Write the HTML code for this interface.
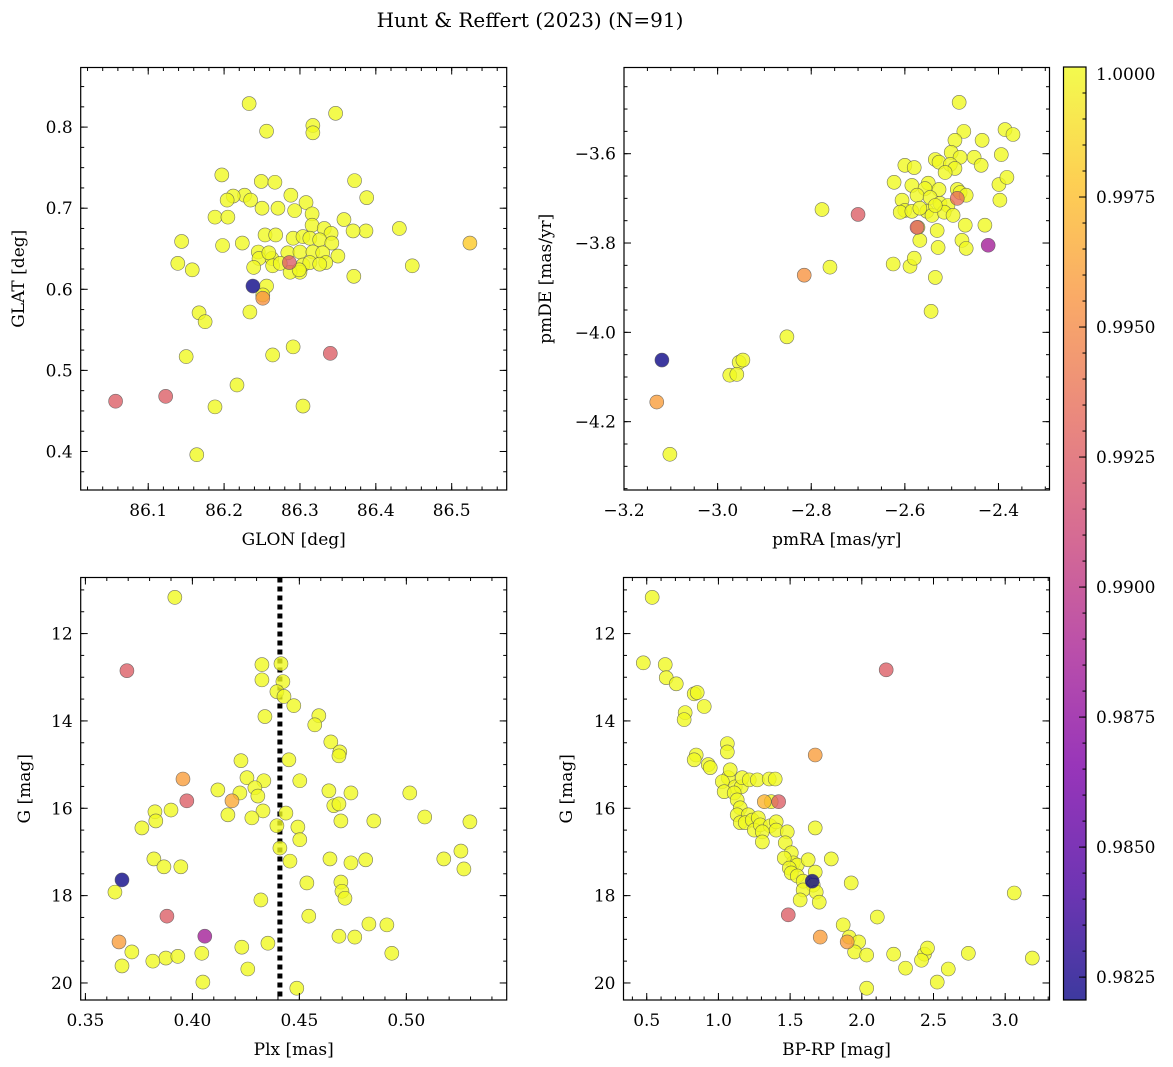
<!DOCTYPE html>
<html><head><meta charset="utf-8">
<style>
html,body{margin:0;padding:0;background:#fff;}
svg{display:block;font-family:"DejaVu Serif","Liberation Serif",serif;}
</style></head>
<body>
<svg id="fig" width="1173" height="1067" viewBox="0 0 1173 1067" xmlns="http://www.w3.org/2000/svg">
<defs>
<linearGradient id="plasma" x1="0" y1="1" x2="0" y2="0">
<stop offset="0" stop-color="#0d0887"/><stop offset="0.125" stop-color="#4c02a1"/><stop offset="0.25" stop-color="#7e03a8"/><stop offset="0.375" stop-color="#a92395"/><stop offset="0.5" stop-color="#cc4778"/><stop offset="0.625" stop-color="#e56b5d"/><stop offset="0.75" stop-color="#f89441"/><stop offset="0.875" stop-color="#fdc328"/><stop offset="1" stop-color="#f0f921"/>
</linearGradient>
</defs>
<text x="530" y="27" font-size="20" text-anchor="middle">Hunt &amp; Reffert (2023) (N=91)</text>
</svg>
<script>
// ---- data ----
const tlGlon = [86.233,86.347,86.256,86.317,86.317,86.197,86.372,86.388,86.249,86.267,86.288,86.308,86.227,86.212,86.204,86.235,86.188,86.205,86.250,86.271,86.293,86.316,86.316,86.332,86.341,86.358,86.387,86.370,86.431,86.224,86.254,86.268,86.291,86.304,86.313,86.326,86.342,86.284,86.300,86.317,86.330,86.350,86.334,86.245,86.263,86.144,86.198,86.246,86.259,86.304,86.313,86.326,86.239,86.264,86.300,86.158,86.287,86.256,86.274,86.299,86.139,86.371,86.448,86.251,86.234,86.167,86.175,86.291,86.264,86.150,86.217,86.188,86.304,86.164,86.524,86.286,86.238,86.251,86.340,86.057,86.123];
const tlGlat = [0.829,0.817,0.795,0.802,0.793,0.741,0.734,0.713,0.733,0.732,0.716,0.707,0.716,0.715,0.710,0.710,0.689,0.689,0.700,0.700,0.697,0.693,0.679,0.675,0.669,0.686,0.672,0.672,0.675,0.657,0.667,0.667,0.663,0.665,0.663,0.661,0.657,0.645,0.646,0.646,0.645,0.641,0.633,0.646,0.638,0.659,0.654,0.638,0.645,0.630,0.633,0.631,0.627,0.629,0.621,0.624,0.621,0.604,0.632,0.624,0.632,0.616,0.629,0.593,0.572,0.571,0.560,0.529,0.519,0.517,0.482,0.455,0.456,0.396,0.657,0.633,0.604,0.589,0.521,0.462,0.468];
const tlProb = [1,1,1,1,1,1,1,1,1,1,1,1,1,1,1,1,1,1,1,1,1,1,1,1,1,1,1,1,1,1,1,1,1,1,1,1,1,1,1,1,1,1,1,1,1,1,1,1,1,1,1,1,1,1,1,1,1,1,1,1,1,1,1,1,1,1,1,1,1,1,1,1,1,1,0.998,0.9925,0.982,0.9955,0.9925,0.9925,0.9925];

const trPmra = [-2.484,-2.474,-2.386,-2.369,-2.493,-2.435,-2.394,-2.501,-2.482,-2.452,-2.535,-2.600,-2.580,-2.527,-2.503,-2.493,-2.514,-2.437,-2.399,-2.382,-2.623,-2.585,-2.550,-2.527,-2.488,-2.482,-2.557,-2.574,-2.546,-2.525,-2.508,-2.606,-2.600,-2.610,-2.585,-2.553,-2.542,-2.516,-2.497,-2.535,-2.568,-2.469,-2.572,-2.531,-2.471,-2.478,-2.469,-2.429,-2.529,-2.568,-2.625,-2.589,-2.580,-2.535,-2.544,-2.760,-2.777,-2.852,-2.954,-2.946,-2.974,-2.959,-3.102,-2.397,-2.700,-2.574,-2.422,-2.815,-3.119,-3.130,-2.488];
const trPmde = [-3.485,-3.550,-3.546,-3.557,-3.570,-3.570,-3.602,-3.597,-3.608,-3.608,-3.613,-3.626,-3.631,-3.619,-3.624,-3.633,-3.642,-3.626,-3.669,-3.653,-3.664,-3.671,-3.666,-3.680,-3.680,-3.687,-3.678,-3.693,-3.698,-3.711,-3.716,-3.704,-3.727,-3.731,-3.729,-3.729,-3.738,-3.731,-3.738,-3.716,-3.722,-3.693,-3.765,-3.772,-3.760,-3.794,-3.812,-3.760,-3.810,-3.794,-3.847,-3.852,-3.834,-3.877,-3.953,-3.854,-3.725,-4.010,-4.067,-4.062,-4.096,-4.094,-4.273,-3.704,-3.736,-3.765,-3.805,-3.872,-4.062,-4.156,-3.700];
const trProb = [1,1,1,1,1,1,1,1,1,1,1,1,1,1,1,1,1,1,1,1,1,1,1,1,1,1,1,1,1,1,1,1,1,1,1,1,1,1,1,1,1,1,1,1,1,1,1,1,1,1,1,1,1,1,1,1,1,1,1,1,1,1,1,1,0.9925,0.9925,0.9885,0.9955,0.982,0.996,0.9935];

const blPlx = [0.3918,0.4325,0.4414,0.4325,0.4423,0.4395,0.4428,0.4474,0.4591,0.4572,0.4339,0.4647,0.4689,0.4685,0.4227,0.4451,0.4502,0.4255,0.4334,0.4292,0.4119,0.4306,0.5016,0.4222,0.4638,0.4741,0.4661,0.4685,0.3825,0.3900,0.4330,0.4437,0.4166,0.5086,0.4278,0.3829,0.3764,0.4694,0.4848,0.5297,0.4395,0.4493,0.5175,0.5255,0.5269,0.4810,0.4741,0.4643,0.4456,0.3820,0.3946,0.3867,0.4409,0.4502,0.4535,0.4694,0.4699,0.4713,0.4320,0.3638,0.4544,0.4825,0.4909,0.4685,0.4759,0.4231,0.4353,0.3717,0.4044,0.3876,0.3932,0.3815,0.3671,0.4259,0.4932,0.4049,0.4488,0.3694,0.3956,0.4185,0.3974,0.3671,0.3881,0.4058,0.3657];
const blG = [11.17,12.71,12.69,13.06,13.10,13.33,13.44,13.65,13.88,14.09,13.90,14.48,14.71,14.80,14.91,14.89,15.37,15.30,15.37,15.53,15.58,15.72,15.65,15.65,15.60,15.65,15.94,15.90,16.08,16.04,16.06,16.11,16.15,16.20,16.22,16.29,16.45,16.29,16.29,16.31,16.40,16.43,17.16,16.98,17.39,17.18,17.25,17.16,17.21,17.16,17.34,17.34,16.91,16.72,17.71,17.69,17.90,18.06,18.10,17.92,18.47,18.65,18.67,18.93,18.95,19.18,19.09,19.29,19.32,19.43,19.39,19.50,19.61,19.68,19.32,19.98,20.12,12.85,15.33,15.83,15.83,17.64,18.47,18.93,19.06];
const blProb = [1,1,1,1,1,1,1,1,1,1,1,1,1,1,1,1,1,1,1,1,1,1,1,1,1,1,1,1,1,1,1,1,1,1,1,1,1,1,1,1,1,1,1,1,1,1,1,1,1,1,1,1,1,1,1,1,1,1,1,1,1,1,1,1,1,1,1,1,1,1,1,1,1,1,1,1,1,0.9925,0.996,0.9965,0.9925,0.982,0.9925,0.9885,0.996];
const plxRef = [0.4409];

const brColor = [0.538,0.476,0.629,0.636,0.706,0.831,0.852,0.768,0.761,0.901,0.845,0.831,0.929,0.943,1.068,1.082,1.062,1.062,1.027,1.117,1.159,1.166,1.215,1.040,1.110,1.131,1.271,1.354,1.396,1.368,1.152,1.131,1.208,1.152,1.187,1.236,1.278,1.250,1.292,1.361,1.306,1.403,1.306,1.403,1.480,1.466,1.508,1.522,1.459,1.550,1.626,1.494,1.508,1.550,1.591,1.675,1.787,1.661,1.591,1.682,1.570,1.703,1.926,1.870,1.912,2.108,1.978,1.950,2.034,2.222,2.305,2.437,2.416,2.458,2.526,2.603,2.743,3.063,3.189,2.034,1.675,1.710,2.170,1.675,1.320,1.420,1.654,1.487,1.898];
const brG = [11.17,12.67,12.71,13.01,13.15,13.38,13.35,13.81,13.97,13.67,14.78,14.89,15.00,15.07,15.30,15.12,14.52,14.71,15.39,15.51,15.51,15.30,15.35,15.62,15.65,15.81,15.35,15.33,15.33,15.85,15.99,16.15,16.15,16.33,16.33,16.27,16.22,16.50,16.38,16.40,16.54,16.31,16.77,16.50,16.54,16.79,17.02,17.25,17.14,17.30,17.18,17.37,17.48,17.55,17.67,17.46,17.16,17.76,17.87,17.92,18.10,18.15,17.71,18.67,18.95,18.49,19.06,19.29,19.36,19.34,19.66,19.34,19.48,19.20,19.98,19.68,19.32,17.94,19.43,20.12,16.45,18.95,12.83,14.78,15.85,15.85,17.67,18.44,19.06];
const brProb = [1,1,1,1,1,1,1,1,1,1,1,1,1,1,1,1,1,1,1,1,1,1,1,1,1,1,1,1,1,1,1,1,1,1,1,1,1,1,1,1,1,1,1,1,1,1,1,1,1,1,1,1,1,1,1,1,1,1,1,1,1,1,1,1,1,1,1,1,1,1,1,1,1,1,1,1,1,1,1,1,1,0.996,0.9925,0.996,0.997,0.9925,0.982,0.9925,0.996];

const tlXTicks = [86.1,86.2,86.3,86.4,86.5];
const tlYTicks = [0.4,0.5,0.6,0.7,0.8];
const trXTicks = [-3.2,-3.0,-2.8,-2.6,-2.4];
const trYTicks = [-4.2,-4.0,-3.8,-3.6];
const blXTicks = [0.35,0.40,0.45,0.50];
const gTicks = [12,14,16,18,20];
const brXTicks = [0.5,1.0,1.5,2.0,2.5,3.0];
const cbTicks = [0.9825,0.9850,0.9875,0.9900,0.9925,0.9950,0.9975,1.0000];
const cMin = 0.98206, cMax = 1.0;

const NS = "http://www.w3.org/2000/svg";
const svg = document.getElementById('fig');
function mk(tag, attrs, parent){
  const e = document.createElementNS(NS, tag);
  for (const k in attrs) e.setAttribute(k, attrs[k]);
  (parent||svg).appendChild(e);
  return e;
}
const stops = [[13,8,135],[76,2,161],[126,3,168],[169,35,149],[204,71,120],[229,107,93],[248,148,65],[253,195,40],[240,249,33]];
function plasma(v){
  let t = (v - cMin)/(cMax - cMin); t = Math.max(0, Math.min(1, t));
  const f = t*8, i = Math.min(7, Math.floor(f)), r = f - i;
  const a = stops[i], b = stops[i+1];
  return 'rgb(' + [0,1,2].map(k => Math.round(a[k]+(b[k]-a[k])*r)).join(',') + ')';
}
function fmt(v, d){ return (v<0?'\u2212':'') + Math.abs(v).toFixed(d); }

function panel(cfg){
  const g = mk('g', {});
  
  
  const {L,T,R,B} = cfg;
  const sx = v => L + (v - cfg.x0)/(cfg.x1 - cfg.x0)*(R-L);
  const sy = cfg.invert ? (v => T + (v - cfg.y0)/(cfg.y1 - cfg.y0)*(B-T)) : (v => B - (v - cfg.y0)/(cfg.y1 - cfg.y0)*(B-T));
  // clip
  const cid = 'clip-' + cfg.name;
  const cp = mk('clipPath', {id: cid}, g);
  mk('rect', {x:L, y:T, width:R-L, height:B-T}, cp);
  const pg = mk('g', {'clip-path': 'url(#'+cid+')'}, g);
  if (cfg.vline){
    const ln = mk('line', {x1:sx(cfg.vline[0]), x2:sx(cfg.vline[0]), y1:T, y2:B, stroke:'#000', 'stroke-width':5, 'stroke-dasharray':'5,4'}, pg);
    
    
  }
  // points: draw high-prob first then colored
  const idx = cfg.xs.map((_, i) => i).sort((a,b) => cfg.c[b] - cfg.c[a]);
  idx.forEach(i => {
    const c = mk('circle', {cx:sx(cfg.xs[i]), cy:sy(cfg.ys[i]), r:7, fill:plasma(cfg.c[i]), 'fill-opacity':0.8, stroke:'#555', 'stroke-width':0.6, 'stroke-opacity':0.8}, pg);
    
    
  });
  // ticks
  const tk = mk('g', {stroke:'#000', 'stroke-width':1}, g);
  const xr = [Math.min(cfg.x0,cfg.x1), Math.max(cfg.x0,cfg.x1)];
  for (let v = Math.ceil(xr[0]/cfg.xMinor - 1e-6)*cfg.xMinor; v <= xr[1]+1e-9; v += cfg.xMinor){
    const x = sx(v);
    mk('line', {x1:x, x2:x, y1:B, y2:B-3.5}, tk); mk('line', {x1:x, x2:x, y1:T, y2:T+3.5}, tk);
  }
  const yr = [Math.min(cfg.y0,cfg.y1), Math.max(cfg.y0,cfg.y1)];
  for (let v = Math.ceil(yr[0]/cfg.yMinor - 1e-6)*cfg.yMinor; v <= yr[1]+1e-9; v += cfg.yMinor){
    const y = sy(v);
    mk('line', {x1:L, x2:L+3.5, y1:y, y2:y}, tk); mk('line', {x1:R, x2:R-3.5, y1:y, y2:y}, tk);
  }
  cfg.xTicks.forEach(v => {
    const x = sx(v);
    mk('line', {x1:x, x2:x, y1:B, y2:B-7}, tk); mk('line', {x1:x, x2:x, y1:T, y2:T+7}, tk);
    const t = mk('text', {x:x, y:B+26, 'font-size':17, 'text-anchor':'middle'}, g);
    t.textContent = fmt(v, cfg.xDec);
    
    
  });
  cfg.yTicks.forEach(v => {
    const y = sy(v);
    mk('line', {x1:L, x2:L+7, y1:y, y2:y}, tk); mk('line', {x1:R, x2:R-7, y1:y, y2:y}, tk);
    const t = mk('text', {x:L-8, y:y+6, 'font-size':17, 'text-anchor':'end'}, g);
    t.textContent = fmt(v, cfg.yDec);
    
    
  });
  const fr = mk('rect', {x:L, y:T, width:R-L, height:B-T, fill:'none', stroke:'#000', 'stroke-width':1.2}, g);
  
  
  const xl = mk('text', {x:(L+R)/2, y:B+55, 'font-size':17, 'text-anchor':'middle'}, g);
  xl.textContent = cfg.xLabel;
  
  
  const yx = cfg.yLabelX, yy = (T+B)/2;
  const yl = mk('text', {x:yx, y:yy, 'font-size':17, 'text-anchor':'middle', transform:'rotate(-90 '+yx+' '+yy+')'}, g);
  yl.textContent = cfg.yLabel;
  
  
}

panel({name:'glon-glat-panel', L:80.7, T:67.5, R:506.7, B:490, x0:86.011, x1:86.5725, y0:0.3525, y1:0.8735,
  xs:tlGlon, ys:tlGlat, c:tlProb, xTicks:tlXTicks, yTicks:tlYTicks, xMinor:0.02, yMinor:0.025, xDec:1, yDec:1,
  xLabel:'GLON [deg]', yLabel:'GLAT [deg]', yLabelX:24});
panel({name:'proper-motion-panel', L:624, T:67.5, R:1049.5, B:490, x0:-3.2, x1:-2.291, y0:-4.353, y1:-3.407,
  xs:trPmra, ys:trPmde, c:trProb, xTicks:trXTicks, yTicks:trYTicks, xMinor:0.05, yMinor:0.05, xDec:1, yDec:1,
  xLabel:'pmRA [mas/yr]', yLabel:'pmDE [mas/yr]', yLabelX:551});
panel({name:'plx-g-panel', L:80.7, T:577.5, R:506.7, B:1000, x0:0.3478, x1:0.5469, y0:10.716, y1:20.39, invert:true,
  xs:blPlx, ys:blG, c:blProb, xTicks:blXTicks, yTicks:gTicks, xMinor:0.01, yMinor:0.5, xDec:2, yDec:0,
  xLabel:'Plx [mas]', yLabel:'G [mag]', yLabelX:30, vline:plxRef});
panel({name:'cmd-panel', L:623.5, T:577.5, R:1049.5, B:1000, x0:0.338, x1:3.309, y0:10.716, y1:20.39, invert:true,
  xs:brColor, ys:brG, c:brProb, xTicks:brXTicks, yTicks:gTicks, xMinor:0.1, yMinor:0.5, xDec:1, yDec:0,
  xLabel:'BP-RP [mag]', yLabel:'G [mag]', yLabelX:572});

// colorbar
(function(){
  const L=1063.5, R=1086, T=67, B=1000;
  const g = mk('g', {});
  
  
  mk('rect', {x:L, y:T, width:R-L, height:B-T, fill:'url(#plasma)', 'fill-opacity':0.8}, g);
  const sy = v => B - (v - cMin)/(cMax - cMin)*(B-T);
  const tk = mk('g', {stroke:'#000', 'stroke-width':1}, g);
  for (let v = Math.ceil(cMin/0.0005)*0.0005; v <= cMax+1e-9; v += 0.0005){
    mk('line', {x1:R, x2:R-3.5, y1:sy(v), y2:sy(v)}, tk);
  }
  cbTicks.forEach(v => {
    const y = sy(v);
    mk('line', {x1:R, x2:R-7, y1:y, y2:y}, tk);
    const t = mk('text', {x:R+10, y:Math.max(y+6, T+13), 'font-size':17}, g);
    t.textContent = v.toFixed(4);
    
    
  });
  mk('rect', {x:L, y:T, width:R-L, height:B-T, fill:'none', stroke:'#000', 'stroke-width':1.2}, g);
})();
</script>
</body></html>
